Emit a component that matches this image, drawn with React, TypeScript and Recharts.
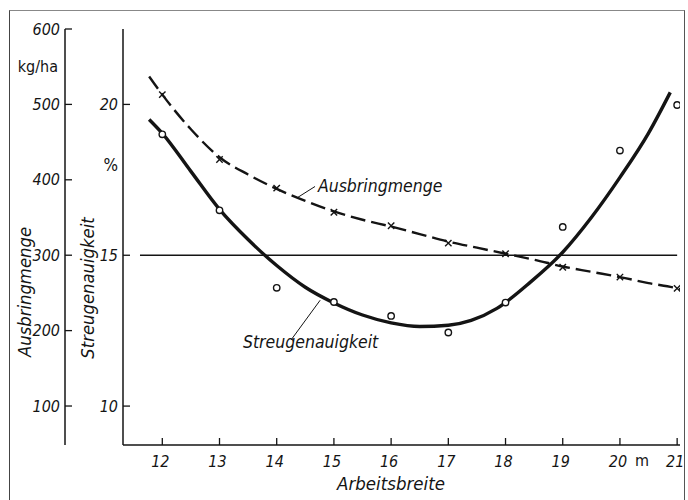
import React from 'react';
import { ComposedChart, Line, XAxis, YAxis, ReferenceLine, ReferenceDot } from 'recharts';

const FONT = "'DejaVu Sans Condensed', 'DejaVu Sans', sans-serif";
const INK = '#141414';

// Achsen-IDs: die kleinere ID liegt innen am Diagramm
const STREU_AXIS = 1;
const MENGE_AXIS = 2;

// Arbeitsbreite (m)
const WIDTHS = [12, 13, 14, 15, 16, 17, 18, 19, 20, 21];
// Messpunkte
const STREU_POINTS = [19.01, 16.49, 13.92, 13.45, 12.99, 12.44, 13.43, 15.94, 18.47, 19.98];
const MENGE_POINTS = [513, 427, 389, 357, 339, 316, 302, 284, 271, 256];

// Ausgleichskurven
const STREU_FIT_X = [11.77, 12, 12.5, 13, 13.5, 14, 14.5, 15, 15.5, 16, 16.5, 17, 17.4, 17.85, 18.43, 19, 19.5, 20, 20.5, 20.88];
const STREU_FIT = [19.5, 19.04, 17.78, 16.52, 15.52, 14.66, 13.94, 13.42, 13.02, 12.76, 12.64, 12.68, 12.84, 13.24, 14.1, 15.1, 16.25, 17.58, 19.05, 20.4];
const MENGE_FIT_X = [11.77, 12, 12.5, 13, 13.5, 14, 14.5, 15, 15.5, 16, 16.5, 17, 17.5, 18, 18.5, 19, 19.5, 20, 20.5, 21, 21.05];
const MENGE_FIT = [537, 513, 467, 430, 407, 388, 372, 358, 347, 338, 328, 318, 310, 302, 294, 285, 278, 271, 263, 256, 255];

const MENGE_TICKS = [100, 200, 300, 400, 500, 600];
const STREU_TICKS = [10, 15, 20];
const STREU_LIMIT = 15;

const streuPoints = WIDTHS.map((x, i) => ({ x, s: STREU_POINTS[i] }));
const mengePoints = WIDTHS.map((x, i) => ({ x, a: MENGE_POINTS[i] }));
const streuFit = STREU_FIT_X.map((x, i) => ({ x, s: STREU_FIT[i] }));
const mengeFit = MENGE_FIT_X.map((x, i) => ({ x, a: MENGE_FIT[i] }));

const textStyle = { fontFamily: FONT, fontStyle: 'italic' as const, fill: INK };

const YTick = (p: any) => (
  <g>
    <line x1={p.x} x2={p.x + 7} y1={p.y} y2={p.y} stroke={INK} strokeWidth={1.3} />
    <text x={p.x - 5} y={p.y} textAnchor="end" dominantBaseline="central" fontSize={16} {...textStyle}>
      {p.payload.value}
    </text>
  </g>
);

const XTick = (p: any) => (
  <g>
    <line x1={p.x} x2={p.x} y1={p.y} y2={p.y - 7} stroke={INK} strokeWidth={1.3} />
    <text x={p.x - 2} y={p.y + 16} textAnchor="middle" dominantBaseline="central" fontSize={16} {...textStyle}>
      {p.payload.value}
    </text>
  </g>
);

const Circle = (p: any) =>
  p.cx == null ? null : (
    <circle key={`c${p.index}`} cx={p.cx} cy={p.cy} r={3.2} fill="#fff" stroke={INK} strokeWidth={1.4} />
  );

const Cross = (p: any) => {
  if (p.cx == null) return null;
  const d = 3.2;
  return (
    <g key={`x${p.index}`}>
      <line x1={p.cx - d} y1={p.cy - d} x2={p.cx + d} y2={p.cy + d} stroke={INK} strokeWidth={1.4} />
      <line x1={p.cx - d} y1={p.cy + d} x2={p.cx + d} y2={p.cy - d} stroke={INK} strokeWidth={1.4} />
    </g>
  );
};

const streuAxisLabel = ({ viewBox }: any) => (
  <g>
    <text x={viewBox.x + viewBox.width - 5} y={viewBox.y + 136} textAnchor="end" dominantBaseline="central"
      fontSize={17} fontFamily={FONT} fill={INK}>%</text>
    <text transform={`translate(${viewBox.x + 22}, ${viewBox.y + 259}) rotate(-90)`} textAnchor="middle"
      dominantBaseline="central" fontSize={18.3} {...textStyle}>Streugenauigkeit</text>
  </g>
);

const mengeAxisLabel = ({ viewBox }: any) => (
  <g>
    <text x={viewBox.x + viewBox.width - 7} y={viewBox.y + 37} textAnchor="end" dominantBaseline="central"
      fontSize={16} fontFamily={FONT} fill={INK}>kg/ha</text>
    <text transform={`translate(${viewBox.x + 24}, ${viewBox.y + 263}) rotate(-90)`} textAnchor="middle"
      dominantBaseline="central" fontSize={18.3} {...textStyle}>Ausbringmenge</text>
  </g>
);

const xAxisLabel = ({ viewBox }: any) => (
  <g>
    <text x={viewBox.x + 268} y={viewBox.y + 45} textAnchor="middle" fontSize={18.5} {...textStyle}>Arbeitsbreite</text>
    <text x={viewBox.x + 519} y={viewBox.y + 21} textAnchor="middle" fontSize={16} fontFamily={FONT} fill={INK}>m</text>
  </g>
);

const noteLabel = (text: string) => ({ viewBox }: any) => (
  <text x={viewBox.x} y={viewBox.y} fontSize={17.5} {...textStyle}>{text}</text>
);

export default function App() {
  return (
    <div style={{ position: 'absolute', left: 0, top: 0, width: 688, height: 500, background: '#fff', overflow: 'hidden' }}>
      <div style={{ position: 'absolute', left: 9, top: 10, width: 674, height: 500, borderTop: '1px solid #888',
        borderLeft: '1.5px solid #444', borderRight: '1.5px solid #555' }} />
      <div style={{ position: 'absolute', left: 0, top: 0 }}>
        <ComposedChart width={688} height={500} margin={{ top: 29, right: 8, bottom: 0, left: 0 }}>
          <XAxis type="number" dataKey="x" domain={[11.313, 21.05]} ticks={WIDTHS} interval={0} allowDataOverflow
            height={55} tickSize={0} tickMargin={0} tickLine={false} tick={XTick}
            axisLine={{ stroke: INK, strokeWidth: 1.5 }} label={xAxisLabel} />
          <YAxis yAxisId={STREU_AXIS} orientation="left" width={58} type="number" domain={[8.71, 22.5]} ticks={STREU_TICKS}
            interval={0} allowDataOverflow tickSize={0} tickMargin={0} tickLine={false} tick={YTick}
            axisLine={{ stroke: INK, strokeWidth: 1.5 }} label={streuAxisLabel} />
          <YAxis yAxisId={MENGE_AXIS} orientation="left" width={65} type="number" domain={[48.3, 600]} ticks={MENGE_TICKS}
            interval={0} allowDataOverflow tickSize={0} tickMargin={0} tickLine={false} tick={YTick}
            axisLine={{ stroke: INK, strokeWidth: 1.5 }} label={mengeAxisLabel} />

          <ReferenceLine yAxisId={STREU_AXIS} segment={[{ x: 11.61, y: STREU_LIMIT }, { x: 21.0, y: STREU_LIMIT }]}
            stroke={INK} strokeWidth={1.5} />

          <Line yAxisId={MENGE_AXIS} data={mengeFit} dataKey="a" type="monotone" stroke={INK} strokeWidth={2.4}
            strokeDasharray="15 6" dot={false} activeDot={false} isAnimationActive={false} />
          <Line yAxisId={STREU_AXIS} data={streuFit} dataKey="s" type="monotone" stroke={INK} strokeWidth={3.4}
            dot={false} activeDot={false} isAnimationActive={false} />

          <Line yAxisId={MENGE_AXIS} data={mengePoints} dataKey="a" stroke="none" dot={Cross} activeDot={false}
            isAnimationActive={false} />
          <Line yAxisId={STREU_AXIS} data={streuPoints} dataKey="s" stroke="none" dot={Circle} activeDot={false}
            isAnimationActive={false} />

          <ReferenceLine yAxisId={STREU_AXIS} segment={[{ x: 14.37, y: 16.92 }, { x: 14.67, y: 17.28 }]} stroke={INK} strokeWidth={1} />
          <ReferenceLine yAxisId={STREU_AXIS} segment={[{ x: 14.25, y: 12.19 }, { x: 14.76, y: 13.51 }]} stroke={INK} strokeWidth={1} />
          <ReferenceDot yAxisId={STREU_AXIS} x={14.72} y={17.09} r={0} fill="none" stroke="none" label={noteLabel('Ausbringmenge')} />
          <ReferenceDot yAxisId={STREU_AXIS} x={13.41} y={11.92} r={0} fill="none" stroke="none" label={noteLabel('Streugenauigkeit')} />
        </ComposedChart>
      </div>
    </div>
  );
}
